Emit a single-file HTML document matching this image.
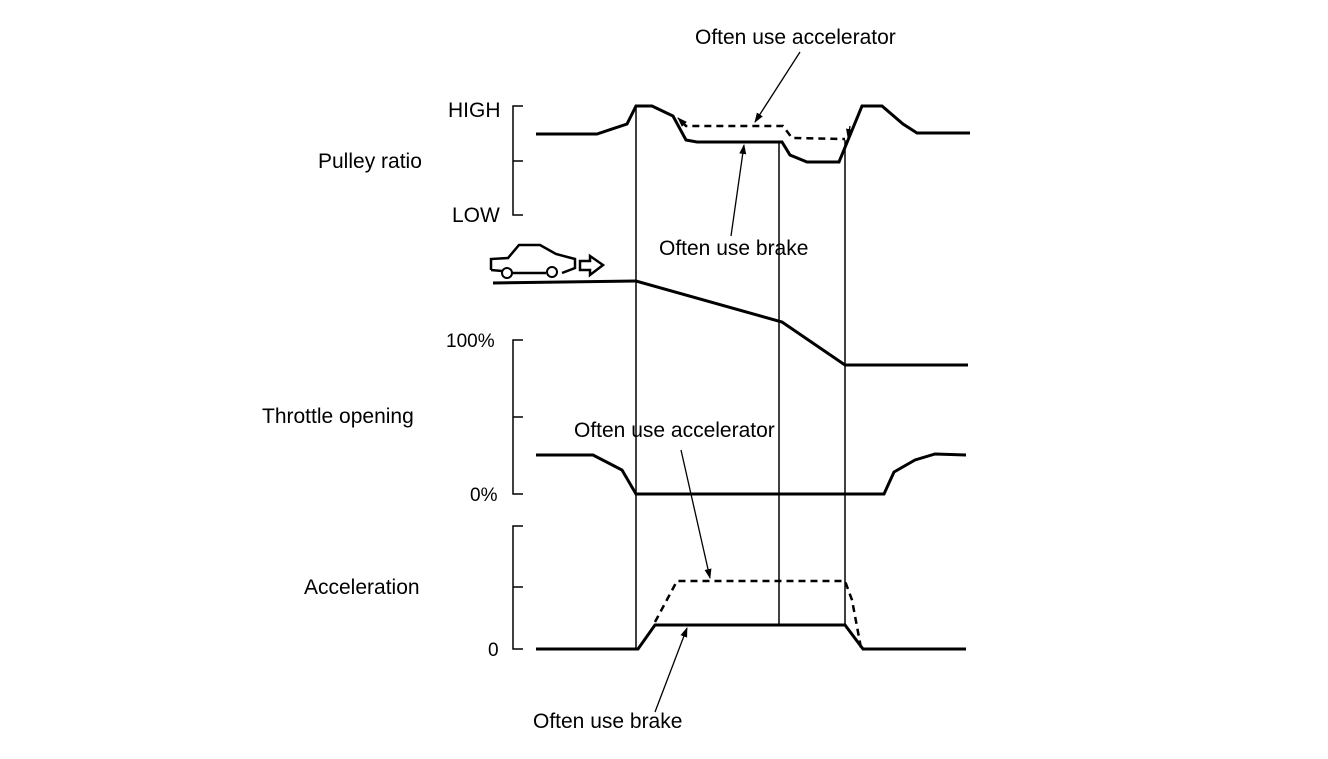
<!DOCTYPE html>
<html><head><meta charset="utf-8"><style>
html,body{margin:0;padding:0;background:#fff;}
svg text{font-family:"Liberation Sans",sans-serif;font-size:21px;fill:#000;}
</style></head><body>
<svg width="1328" height="754" viewBox="0 0 1328 754" xmlns="http://www.w3.org/2000/svg">
<defs><marker id="ah" markerWidth="10" markerHeight="10" refX="9" refY="3.5" orient="auto" markerUnits="userSpaceOnUse"><path d="M0,0 L10,3.5 L0,7z" fill="#000"/></marker></defs>
<g fill="none" stroke="#000">
<!-- axes -->
<path d="M523,106 H513 V215 H523 M513,161 H523" stroke-width="1.5"/>
<path d="M523,340 H513 V494 H523 M513,417 H523" stroke-width="1.5"/>
<path d="M523,526 H513 V649 H523 M513,587 H523" stroke-width="1.5"/>
<!-- verticals -->
<path d="M636,106 V650 M779,141 V626 M845,140 V626" stroke-width="1.5"/>
<!-- pulley -->
<path d="M536,134 L597,134 L627,124 L636,106 L652,106 L673,116 L686,140 L697,142 L782,142 L790,155 L807,162 L839,162 L862,106 L882,106 L903,124 L917,133 L970,133" stroke-width="3"/>
<path d="M682,122 L686,126 L783,126 L792,138 L845,139" stroke-width="2.5" stroke-dasharray="7,5"/>
<!-- speed -->
<path d="M493,283 L636,281 L782,322 L845,365 L968,365" stroke-width="3"/>
<!-- throttle -->
<path d="M536,455 L593,455 L622,470 L636,494 L884,494 L894,472 L915,460 L935,454 L966,455" stroke-width="3"/>
<!-- accel -->
<path d="M536,649 L638,649 L655,625 L845,625 L863,649 L966,649" stroke-width="3"/>
<path d="M655,622 L677,581 L845,581 L852,600 L861,648" stroke-width="2.5" stroke-dasharray="7,5"/>
<!-- arrows -->
<path d="M800,52 L755,122" stroke-width="1.3" marker-end="url(#ah)"/>
<path d="M731,236 L744,145" stroke-width="1.3" marker-end="url(#ah)"/>
<path d="M681,450 L710,578" stroke-width="1.3" marker-end="url(#ah)"/>
<path d="M655,712 L687,628" stroke-width="1.3" marker-end="url(#ah)"/>
<path d="M850,126 L848,138" stroke-width="1.3" marker-end="url(#ah)"/>
<path d="M684,124 L678,118" stroke-width="1.3" marker-end="url(#ah)"/>
<!-- car -->
<path d="M491,270 V259 L508,258 L519,245 L540,245 L556,254 L575,259 L575,268 L562,273 M491,270 L502,271 M512,273 L546,273" stroke-width="2.5"/>
<circle cx="507" cy="273" r="5" stroke-width="2" fill="#fff"/>
<circle cx="552" cy="272" r="5" stroke-width="2" fill="#fff"/>
<path d="M580,261 L590,261 L590,256 L603,265 L590,275 L590,270 L580,270Z" stroke-width="2.5"/>
</g>
<text x="695" y="44">Often use accelerator</text>
<text x="448" y="117">HIGH</text>
<text x="318" y="168">Pulley ratio</text>
<text x="452" y="222">LOW</text>
<text x="659" y="255">Often use brake</text>
<text x="446" y="347" style="font-size:19px">100%</text>
<text x="262" y="423">Throttle opening</text>
<text x="574" y="437">Often use accelerator</text>
<text x="470" y="501" style="font-size:19px">0%</text>
<text x="304" y="594">Acceleration</text>
<text x="488" y="656" style="font-size:19px">0</text>
<text x="533" y="728">Often use brake</text>
</svg>
</body></html>
